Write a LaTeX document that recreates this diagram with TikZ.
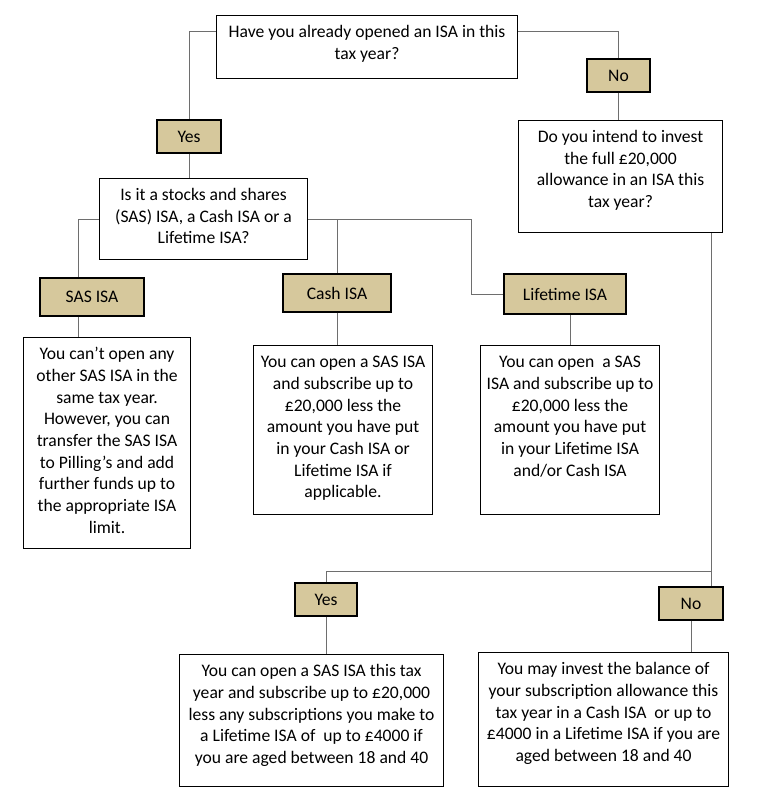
\documentclass[tikz,border=0pt]{standalone}
\usepackage{fontspec}
\setmainfont{Carlito}
\usetikzlibrary{calc}

\definecolor{tagfill}{RGB}{214,200,156}
\definecolor{linkgray}{RGB}{110,110,110}
\newlength\pix
\setlength\pix{0.75pt}
% fixed size text box, text from the top
\newcommand{\boxtext}[3]{\parbox[t][#1\pix][t]{#2\pix}{\centering\rule{0pt}{16.5pt}#3}}

\tikzset{
	qbox/.style={draw,line width=0.8pt,inner sep=0pt,anchor=north west},
	tag/.style={draw,line width=0.8pt,fill=tagfill,inner sep=0pt,minimum height=24.75pt},
	link/.style={draw=linkgray,line width=0.75pt},
}

\begin{document}
\begin{tikzpicture}[x=0.75pt,y=-0.75pt,font=\fontsize{13.2}{16.3}\selectfont]
\useasboundingbox (0,0) rectangle (756,805);
% questions
\node[qbox] (q1) at (216,15) {\boxtext{63}{301}{Have you already opened an ISA in this\\tax year?}};
\node[qbox] (q2) at (99,178) {\boxtext{81}{208}{Is it a stocks and shares\\(SAS) ISA, a Cash ISA or a\\Lifetime ISA?}};
\node[qbox] (q3) at (518,120) {\boxtext{112}{204}{Do you intend to invest\\the full £20,000\\allowance in an ISA this\\tax year?}};
% answers
\node[tag,minimum width=48pt] (yes1) at (189,136.5) {Yes};
\node[tag,minimum width=47.25pt] (no1) at (618.5,75.5) {No};
\node[tag,minimum width=78pt,minimum height=28.5pt] (sas) at (92,297) {SAS ISA};
\node[tag,minimum width=81pt,minimum height=28.5pt] (cash) at (337,293) {Cash ISA};
\node[tag,minimum width=91.5pt,minimum height=30pt] (life) at (565,294) {Lifetime ISA};
\node[tag,minimum width=46.5pt] (yes2) at (326,599.5) {Yes};
\node[tag,minimum width=48pt] (no2) at (691,603.5) {No};
% outcomes
\node[qbox] (sastxt) at (23,337) {\boxtext{211}{167}{You can’t open any\\other SAS ISA in the\\same tax year.\\However, you can\\transfer the SAS ISA\\to Pilling’s and add\\further funds up to\\the appropriate ISA\\limit.}};
\node[qbox] (cashtxt) at (253,345) {\boxtext{169}{179}{You can open a SAS ISA\\and subscribe up to\\£20,000 less the\\amount you have put\\in your Cash ISA or\\Lifetime ISA if\\applicable.}};
\node[qbox] (lifetxt) at (480,345) {\boxtext{169}{179}{You can open~ a SAS\\ISA and subscribe up to\\£20,000 less the\\amount you have put\\in your Lifetime ISA\\and/or Cash ISA}};
\node[qbox] (ytxt) at (179,654) {\boxtext{132}{264}{You can open a SAS ISA this tax\\year and subscribe up to £20,000\\less any subscriptions you make to\\a Lifetime ISA of~ up to £4000 if\\you are aged between 18 and 40}};
\node[qbox] (ntxt) at (478,652) {\boxtext{134}{250}{You may invest the balance of\\your subscription allowance this\\tax year in a Cash ISA~ or up to\\£4000 in a Lifetime ISA if you are\\aged between 18 and 40}};

% connectors
\coordinate (sasx) at (78,0);
\coordinate (fork) at (711,571);
\draw[link] ([yshift=12pt]q1.west) -| (yes1);
\draw[link] ([yshift=12pt]q1.east) -| (no1);
\draw[link] (no1) -- (no1 |- q3.north);
\draw[link] (yes1) -- (yes1 |- q2.north);
\draw[link] (q2.west) -| (sasx |- sas.north);
\draw[link] (sasx |- sas.south) -- (sasx |- sastxt.north);
\draw[link] (q2.east) -- ++(163,0) |- (life.west);
\draw[link] (cash.north |- q2.east) -- (cash);
\draw[link] (cash) -- (cash |- cashtxt.north);
\draw[link] (lifetxt.north |- life.south) -- (lifetxt.north);
\draw[link] (q3.south -| fork) -- (fork) -| (yes2);
\draw[link] (fork) -- (fork |- no2.north);
\draw[link] (yes2) -- (yes2 |- ytxt.north);
\draw[link] (no2) -- (no2 |- ntxt.north);
\end{tikzpicture}
\end{document}
